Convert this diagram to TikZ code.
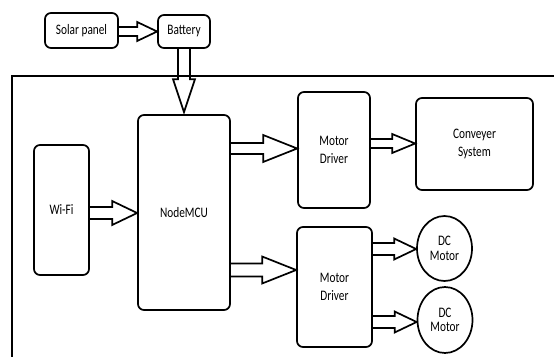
\documentclass[tikz,border=0pt]{standalone}
\usepackage{fontspec}
\setmainfont{Carlito}[FakeStretch=0.78]
\usetikzlibrary{shapes.geometric,calc}
\tikzset{
 box/.style={draw, line width=1.7pt, rounded corners=6pt, align=center, font=\fontsize{14.5}{18}\selectfont, inner sep=0pt},
 circ/.style={draw, ellipse, line width=1.7pt, align=center, font=\fontsize{14.5}{14.5}\selectfont, inner sep=0pt},
 arr/.style={draw, line width=1.7pt, line join=miter},
 frameline/.style={line width=1.8pt}
}
\newcommand\harrow[5]{\draw[arr] let \p1=#1, \p2=#2 in (\x1,\y1+#3) -- (\x2-#5,\y1+#3) -- (\x2-#5,\y1+#4) -- (\x2,\y1) -- (\x2-#5,\y1-#4) -- (\x2-#5,\y1-#3) -- (\x1,\y1-#3);}
\begin{document}
\begin{tikzpicture}[x=1pt,y=-1pt]
\useasboundingbox (0,0) rectangle (554,356);
\fill[white] (0,0) rectangle (554,356);
% frame
\draw[frameline] (12,360) -- (12,76) -- (560,76);
% nodes
\node[box, minimum width=73pt, minimum height=35pt] (solar) at (81.5,30.5) {Solar panel};
\node[box, minimum width=52pt, minimum height=33pt] (bat) at (184,31.5) {Battery};
\node[box, minimum width=92pt, minimum height=195pt] (mcu) at (184,212.5) {NodeMCU};
\node[box, minimum width=55pt, minimum height=130pt] (wifi) at (61.5,210) {Wi-Fi};
\node[box, minimum width=72pt, minimum height=116pt] (md1) at (334,150) {Motor\\Driver};
\node[box, minimum width=117pt, minimum height=92pt] (conv) at (474.5,144) {Conveyer\\System};
\node[box, minimum width=75pt, minimum height=120pt] (md2) at (334.5,287) {Motor\\Driver};
\node[circ, minimum width=55pt, minimum height=65pt] (dc1) at (444.5,248.5) {DC\\Motor};
\node[circ, minimum width=55pt, minimum height=66pt] (dc2) at (445,320) {DC\\Motor};
% arrow levels
\coordinate (ys) at (0,31.5);
\coordinate (yw) at (0,213);
\coordinate (ym1) at (0,148.5);
\coordinate (ym2) at (0,270);
\coordinate (yc) at (0,143.5);
\coordinate (yd1) at (0,249);
\coordinate (yd2) at (0,322);
% arrows
\harrow{(solar.east |- ys)}{(bat.west |- ys)}{4.5pt}{9.5pt}{20pt}
\harrow{(wifi.east |- yw)}{(mcu.west |- yw)}{6pt}{12pt}{25pt}
\harrow{(mcu.east |- ym1)}{(md1.west |- ym1)}{5.5pt}{13.5pt}{34pt}
\harrow{(mcu.east |- ym2)}{(md2.west |- ym2)}{6.5pt}{13.5pt}{34pt}
\harrow{(md1.east |- yc)}{(conv.west |- yc)}{4.5pt}{9.5pt}{23pt}
\harrow{(md2.east |- yd1)}{(dc1.west |- yd1)}{6pt}{10.5pt}{22pt}
\harrow{(md2.east |- yd2)}{(dc2.west |- yd2)}{6pt}{10.5pt}{22pt}
\draw[arr] let \p1=(bat.south), \p2=(mcu.north) in
  (\x1-6pt,\y1) -- (\x1-6pt,\y2+35pt) -- (\x1-11pt,\y2+35pt) -- (\x1,\y2+2pt)
  -- (\x1+11pt,\y2+35pt) -- (\x1+6pt,\y2+35pt) -- (\x1+6pt,\y1);
\end{tikzpicture}
\end{document}
